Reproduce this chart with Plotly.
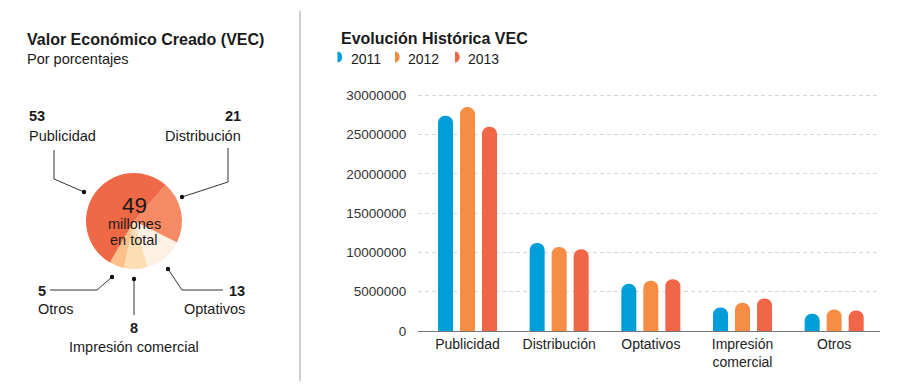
import plotly.graph_objects as go

# ---------------- data ----------------
pie_labels = ["Distribución", "Optativos", "Impresión comercial", "Otros", "Publicidad"]
pie_values = [21, 13, 8, 5, 53]
pie_total_millones = 49

categories = ["Publicidad", "Distribución", "Optativos", "Impresión<br>comercial", "Otros"]
years = ["2011", "2012", "2013"]
vec_2011 = [27400000, 11200000, 6000000, 3000000, 2200000]
vec_2012 = [28500000, 10700000, 6400000, 3600000, 2750000]
vec_2013 = [26000000, 10400000, 6600000, 4150000, 2600000]
y_ticks = [0, 5000000, 10000000, 15000000, 20000000, 25000000, 30000000]

# ---------------- styles ----------------
W, H = 898, 390
FONT = "Liberation Sans, Arial, sans-serif"
TXT = "#1a1a1a"
bar_colors = ["#009ED9", "#F68D45", "#F06646"]
pie_colors = ["#F58A64", "#FEF0E2", "#FDDDB4", "#FCC08A", "#F06947"]


def px(x):
    return x / W


def py(y):
    return 1 - y / H


fig = go.Figure()

# pie
cx, cy, r = 134, 221, 48
fig.add_trace(go.Pie(
    labels=pie_labels, values=pie_values, sort=False, direction="clockwise",
    rotation=41, textinfo="none", hoverinfo="label+percent",
    marker=dict(colors=pie_colors, line=dict(width=0)),
    domain=dict(x=[px(cx - r), px(cx + r)], y=[py(cy + r), py(cy - r)]),
    showlegend=False,
))

# bars
for name, vals, col in zip(years, [vec_2011, vec_2012, vec_2013], bar_colors):
    fig.add_trace(go.Bar(
        x=categories, y=vals, name=name,
        marker=dict(color=col, line=dict(width=0), cornerradius=7),
        showlegend=False,
    ))

top_px, zero_px, grid30_px = 80, 331, 95.3
per_px = 30000000 / (zero_px - grid30_px)
y_max = (zero_px - top_px) * per_px

fig.update_layout(
    width=W, height=H, autosize=False,
    margin=dict(l=0, r=0, t=0, b=0, pad=0),
    paper_bgcolor="white", plot_bgcolor="white",
    font=dict(family=FONT, color=TXT),
    showlegend=False,
    barmode="group", bargap=0.28, bargroupgap=0.318,
    xaxis=dict(
        domain=[px(418), px(880)], range=[-0.54, 4.5], automargin=False,
        showline=True, linecolor="#777777", linewidth=1,
        showgrid=False, ticks="", tickfont=dict(size=14, color="#222222", family=FONT),
        fixedrange=True,
    ),
    yaxis=dict(
        domain=[py(zero_px), py(top_px)], range=[0, y_max], automargin=False,
        tickvals=y_ticks, ticktext=[str(v) for v in y_ticks],
        showgrid=True, gridcolor="#d6d6d6", gridwidth=1, griddash="4px,3px",
        zeroline=False, showline=False, ticks="outside", ticklen=8, tickcolor="rgba(0,0,0,0)",
        tickfont=dict(size=13.5, color="#333333", family=FONT), fixedrange=True,
    ),
)

shapes = []
annotations = []

# separator
shapes.append(dict(type="line", xref="paper", yref="paper", x0=px(300), x1=px(300),
                   y0=py(11), y1=py(381), line=dict(color="#cfcfcf", width=2)))


def text(x, y, s, size=14.5, bold=False, xanchor="left", color=TXT):
    annotations.append(dict(
        x=px(x), y=py(y), xref="paper", yref="paper", text=f"<b>{s}</b>" if bold else s,
        showarrow=False, xanchor=xanchor, yanchor="middle",
        font=dict(size=size, color=color, family=FONT),
    ))


# titles
text(25, 40, "Valor Económico Creado (VEC)", size=16, bold=True)
text(25, 59, "Por porcentajes", size=14.5)
text(339, 39, "Evolución Histórica VEC", size=16, bold=True)

# legend
leg_x = [337.5, 395, 455]
for i, (name, col) in enumerate(zip(years, bar_colors)):
    shapes.append(dict(
        type="path", xref="paper", yref="paper", xsizemode="pixel", ysizemode="pixel",
        xanchor=px(leg_x[i]), yanchor=py(57),
        path="M0,-5.5 C6.2,-5.5 6.2,5.5 0,5.5 Z", fillcolor=col, line=dict(width=0),
    ))
    text(leg_x[i] + 11, 58.5, name, size=14)

# pie centre text
text(cx, 205, str(pie_total_millones), size=22.5, xanchor="center")
text(cx, 224, "millones", size=14.5, xanchor="center")
text(cx, 240, "en total", size=14.5, xanchor="center")

# pie labels and leaders (positions)
label_pos = {
    "Publicidad": dict(x=27, yv=116, yl=136, anchor="left",
                       line=[(54, 150), (54, 179), (84, 192)]),
    "Distribución": dict(x=243, yv=116, yl=136, anchor="right",
                         line=[(228, 148), (228, 182), (182, 197)]),
    "Otros": dict(x=36, yv=291, yl=309, anchor="left",
                  line=[(50, 290), (97, 290), (112, 277)]),
    "Impresión comercial": dict(x=134, yv=328, yl=347, anchor="center",
                                line=[(134, 315), (134, 279)]),
    "Optativos": dict(x=247, yv=291, yl=309, anchor="right",
                      line=[(223, 290), (182, 290), (168, 269)]),
}
for lab, val in zip(pie_labels, pie_values):
    p = label_pos[lab]
    text(p["x"], p["yv"], str(val), size=14.5, bold=True, xanchor=p["anchor"])
    text(p["x"], p["yl"], lab, size=14.5, xanchor=p["anchor"])
    pts = p["line"]
    path = "M" + " L".join(f"{px(a)},{py(b)}" for a, b in pts)
    shapes.append(dict(type="path", xref="paper", yref="paper", path=path,
                       line=dict(color="#333333", width=1)))
    ex, ey = pts[-1]
    shapes.append(dict(type="circle", xref="paper", yref="paper",
                       xsizemode="pixel", ysizemode="pixel",
                       xanchor=px(ex), yanchor=py(ey), x0=-2.2, x1=2.2, y0=-2.2, y1=2.2,
                       fillcolor="#111111", line=dict(width=0)))

fig.update_layout(shapes=shapes, annotations=annotations)

page_css = (
    "var s=document.createElement('style');"
    "s.innerHTML='html,body{margin:0;padding:0;overflow:hidden;width:898px;height:390px;}"
    "body>div{margin:0;padding:0;height:390px;overflow:hidden;line-height:0;}';"
    "document.head.appendChild(s);"
)
fig.write_html("out.html", config={"displayModeBar": False}, post_script=page_css)
